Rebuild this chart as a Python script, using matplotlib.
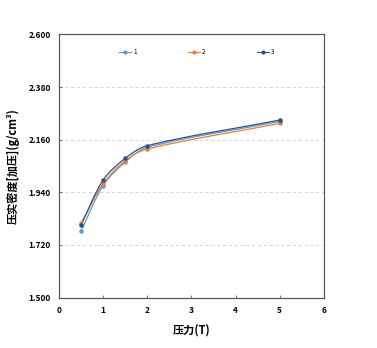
import numpy as np
import matplotlib
matplotlib.use("Agg")
import matplotlib.pyplot as plt
from matplotlib.path import Path
from matplotlib.patches import PathPatch

plt.rcParams['font.family'] = ['Noto Sans CJK SC', 'DejaVu Sans']

pressure = [0.5, 1.0, 1.5, 2.0, 5.0]
density_1 = [1.778, 1.968, 2.066, 2.128, 2.236]
density_2 = [1.810, 1.976, 2.072, 2.121, 2.228]
density_3 = [1.803, 1.991, 2.082, 2.135, 2.242]
series_names = ['1', '2', '3']
colors = ['#5B9BD5', '#ED7D31', '#2E4F84']

y_ticks = [1.50, 1.72, 1.94, 2.16, 2.38, 2.60]
x_ticks = [0, 1, 2, 3, 4, 5, 6]


def smooth_path(ax, xs, ys):
    """Excel-like smoothed line built from cubic Bezier segments (pixel space).
    Tangent at each point follows its neighbours, handle length follows the segment."""
    pts = ax.transData.transform(np.column_stack([xs, ys]))
    n = len(pts)
    tang = []
    for i in range(n):
        a = pts[max(i - 1, 0)]
        b = pts[min(i + 1, n - 1)]
        d = b - a
        tang.append(d / np.hypot(*d))
    verts = [pts[0]]
    codes = [Path.MOVETO]
    for i in range(n - 1):
        seg = np.hypot(*(pts[i + 1] - pts[i]))
        c1 = pts[i] + tang[i] * seg / 3.0
        c2 = pts[i + 1] - tang[i + 1] * seg / 3.0
        verts += [c1, c2, pts[i + 1]]
        codes += [Path.CURVE4] * 3
    return Path(verts, codes)


fig = plt.figure(figsize=(3.77, 3.48), dpi=100)
ax = fig.add_axes([0.1565, 0.145, 0.7025, 0.756])
ax.set_xlim(0, 6)
ax.set_ylim(1.5, 2.6)

fig.canvas.draw()
for name, ys, c in zip(series_names, [density_1, density_2, density_3], colors):
    p = smooth_path(ax, pressure, ys)
    ax.add_patch(PathPatch(p, transform=None, fill=False, edgecolor=c, lw=0.9, zorder=3))
    ax.plot(pressure, ys, linestyle='none', marker='o', ms=2.2, color=c, zorder=4)
    # legend proxy
    ax.plot([], [], color=c, lw=0.8, marker='o', ms=2, label=name)

ax.set_yticks(y_ticks)
ax.set_yticklabels([f'{v:.3f}' for v in y_ticks])
ax.set_xticks(x_ticks)
ax.tick_params(axis='both', direction='in', length=2.5, width=0.6, color='#595959',
               labelsize=6, pad=6)
for lbl in ax.get_xticklabels() + ax.get_yticklabels():
    lbl.set_fontweight('bold')

ax.yaxis.grid(True, linestyle=(0, (4, 3)), color='#D0D0D0', lw=0.6)
ax.set_axisbelow(True)
for s in ax.spines.values():
    s.set_color('#595959')
    s.set_linewidth(0.9)

ax.set_xlabel('压力(T)', fontsize=8, fontweight='bold', labelpad=6)
ax.set_ylabel('压实密度[加压](g/cm³)', fontsize=8, fontweight='bold', labelpad=6)

leg = ax.legend(loc='upper center', ncol=3, frameon=False, fontsize=4.5,
                columnspacing=8.2, handlelength=2.0, handletextpad=0.3,
                bbox_to_anchor=(0.52, 0.97))

fig.savefig('out.png', dpi=100)
